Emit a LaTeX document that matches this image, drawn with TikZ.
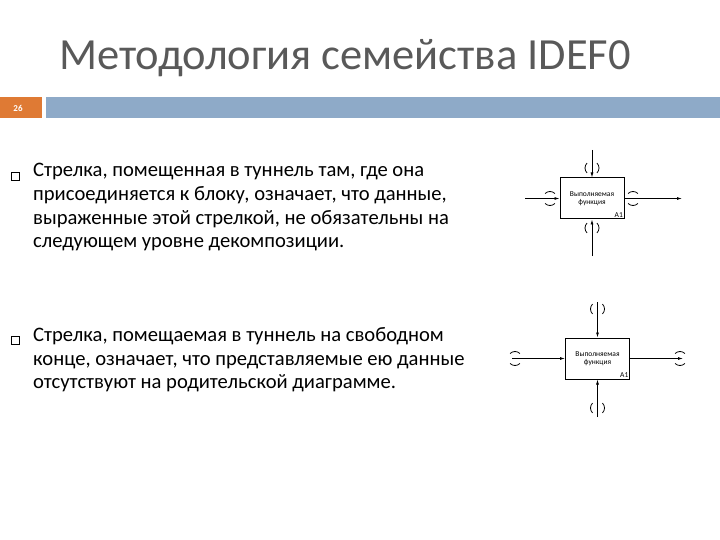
\documentclass[tikz,border=0pt]{standalone}
\usepackage{fontspec}
\setmainfont{Carlito}
\usetikzlibrary{arrows.meta}
\definecolor{ttl}{RGB}{89,89,89}
\definecolor{org}{RGB}{223,122,52}
\definecolor{blu}{RGB}{142,170,200}
\begin{document}
\begin{tikzpicture}[x=1pt,y=-1pt,
 txt/.style={anchor=north west,align=left,font=\fontsize{20.6}{23.8}\selectfont,inner sep=0pt},
 fbox/.style={draw,line width=1pt,minimum width=64pt,minimum height=41pt,inner sep=0pt,font=\fontsize{7.5}{8.5}\selectfont},
 arr/.style={line width=0.8pt,-{Latex[length=5pt,width=3pt]}},
 tun/.style={line width=0.8pt}]
\useasboundingbox (0,0) rectangle (720,540);
\node[font=\fontsize{44.5}{48}\selectfont,text=ttl,anchor=center] (title) at (345,58) {Методология семейства IDEF0};
\fill[org] (0,97) rectangle (42,118);
\node[text=white,font=\bfseries\fontsize{9}{10}\selectfont] (num) at (18,108) {26};
\fill[blu] (46,97) rectangle (720,118);
\node[draw,minimum size=8pt,inner sep=0pt,line width=0.5pt] (b1) at (15,176) {};
\node[draw,minimum size=8pt,inner sep=0pt,line width=0.5pt] (b2) at (15,340) {};
\node[txt] (t1) at (33,163) {Стрелка, помещенная в туннель там, где она\\присоединяется к блоку, означает, что данные,\\выраженные этой стрелкой, не обязательны на\\следующем уровне декомпозиции.};
\node[txt] (t2) at (33,327) {Стрелка, помещаемая в туннель на свободном\\конце, означает, что представляемые ею данные\\отсутствуют на родительской диаграмме.};
% diagram 1
\node[fbox,align=center] (f1) at (592,198.5) {Выполняемая\\функция};
\node[font=\fontsize{7.5}{8.5}\selectfont,anchor=south east,inner sep=1.5pt] (a1) at (f1.south east) {A1};
\coordinate (t1s) at (592,150); \coordinate (l1s) at (525,198.5);
\coordinate (r1e) at (682,198.5); \coordinate (b1s) at (592,256);
\draw[arr] (t1s) -- (f1.north);
\draw[arr] (l1s) -- (f1.west);
\draw[arr] (f1.east) -- (r1e);
\draw[arr] (b1s) -- (f1.south);
\foreach \p in {(592,168),(592,228)}{
 \draw[tun] \p ++(135:7) arc[start angle=135,end angle=225,radius=7];
 \draw[tun] \p ++(-45:7) arc[start angle=-45,end angle=45,radius=7];}
\foreach \p in {(550,198.5),(633,198.5)}{
 \draw[tun] \p ++(45:7) arc[start angle=45,end angle=135,radius=7];
 \draw[tun] \p ++(225:7) arc[start angle=225,end angle=315,radius=7];}
% diagram 2
\node[fbox,align=center] (f2) at (597.5,358.5) {Выполняемая\\функция};
\node[font=\fontsize{7.5}{8.5}\selectfont,anchor=south east,inner sep=1.5pt] (a2) at (f2.south east) {A1};
\coordinate (t2s) at (597.5,302); \coordinate (l2s) at (512,358.5);
\coordinate (r2e) at (683,358.5); \coordinate (b2s) at (597.5,417);
\draw[arr] (t2s) -- (f2.north);
\draw[arr] (l2s) -- (f2.west);
\draw[arr] (f2.east) -- (r2e);
\draw[arr] (b2s) -- (f2.south);
\foreach \p in {(597.5,309),(597.5,408)}{
 \draw[tun] \p ++(135:7) arc[start angle=135,end angle=225,radius=7];
 \draw[tun] \p ++(-45:7) arc[start angle=-45,end angle=45,radius=7];}
\foreach \p in {(515,358.5),(680,358.5)}{
 \draw[tun] \p ++(45:7) arc[start angle=45,end angle=135,radius=7];
 \draw[tun] \p ++(225:7) arc[start angle=225,end angle=315,radius=7];}
\end{tikzpicture}
\end{document}
